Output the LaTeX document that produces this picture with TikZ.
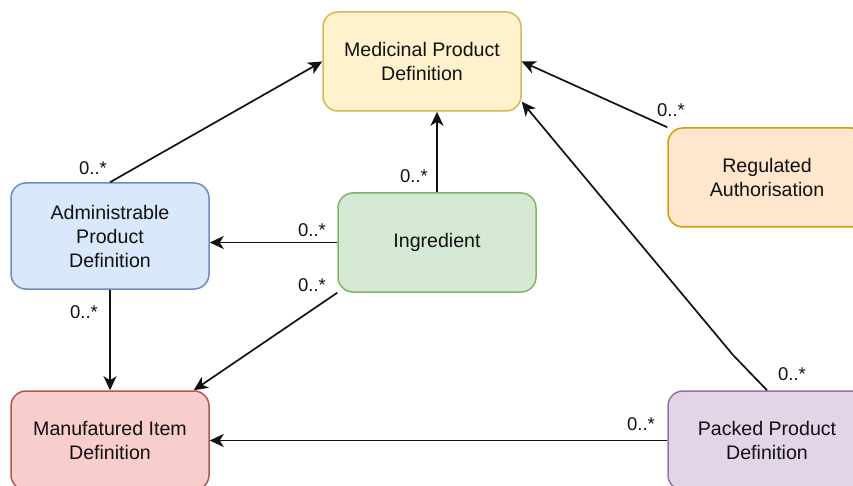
\documentclass[tikz,border=0pt]{standalone}
\usepackage{fontspec}
\setmainfont{Liberation Sans}
\usetikzlibrary{arrows.meta,calc}

% draw.io palette
\definecolor{yelFill}{HTML}{FFF2CC}\definecolor{yelLine}{HTML}{D6B656}
\definecolor{orFill}{HTML}{FFE6CC}\definecolor{orLine}{HTML}{D79B00}
\definecolor{bluFill}{HTML}{DAE8FC}\definecolor{bluLine}{HTML}{6C8EBF}
\definecolor{grnFill}{HTML}{D5E8D4}\definecolor{grnLine}{HTML}{82B366}
\definecolor{redFill}{HTML}{F8CECC}\definecolor{redLine}{HTML}{B85450}
\definecolor{purFill}{HTML}{E1D5E7}\definecolor{purLine}{HTML}{9673A6}
\definecolor{ink}{HTML}{111111}

\tikzset{
  entity/.style={draw, rounded corners=15pt, line width=1.5pt,
    minimum width=198pt, minimum height=99pt, inner sep=0pt,
    align=center, text=ink, font=\fontsize{19.6}{24}\selectfont},
  assoc/.style={draw=ink, line width=1.7pt,
    -{Stealth[length=14pt,width=13pt,inset=4pt]}},
  mult/.style={text=ink, inner sep=0pt, font=\fontsize{18.5}{22}\selectfont}
}

\begin{document}
\begin{tikzpicture}[x=1pt,y=-1pt]
  \useasboundingbox (0,0) rectangle (853,486);
  \clip (0,0) rectangle (853,486);

  % classes
  \node[entity, fill=yelFill, draw=yelLine] (mpd) at (422,61.5) {Medicinal Product\\Definition};
  \node[entity, fill=orFill, draw=orLine] (ra) at (767,177.5) {Regulated\\Authorisation};
  \node[entity, fill=bluFill, draw=bluLine, minimum height=106pt] (apd) at (110,236) {Administrable\\Product\\Definition};
  \node[entity, fill=grnFill, draw=grnLine] (ing) at (437,242.5) {Ingredient};
  \node[entity, fill=redFill, draw=redLine] (mid) at (110,440.5) {Manufatured Item\\Definition};
  \node[entity, fill=purFill, draw=purLine] (ppd) at (767,440.5) {Packed Product\\Definition};

  % free ends and bends
  \coordinate (bendP) at (733,355);
  \coordinate (mpdLow) at ($(mpd.south east)+(0,-10)$);
  \coordinate (midTop) at ($(mid.north east)+(-16,0)$);

  % associations
  \draw[assoc] (apd.north) -- (mpd.west);
  \draw[assoc] (ing.north) -- (ing.north |- mpd.south);
  \draw[assoc] (ra.north west) -- (mpd.east);
  \draw[assoc] (ppd.north) -- (bendP) -- (mpdLow);
  \draw[assoc] (ing.west) -- (ing.west -| apd.east);
  \draw[assoc] (ing.south west) -- (midTop);
  \draw[assoc] (apd.south) -- (apd.south |- mid.north);
  \draw[assoc] (ppd.west) -- (ppd.west -| mid.east);

  % multiplicities
  \node[mult] (m1) at (93,168) {0..*};
  \node[mult] (m2) at (414,176) {0..*};
  \node[mult] (m3) at (671,110) {0..*};
  \node[mult] (m4) at (792,374) {0..*};
  \node[mult] (m5) at (312,230) {0..*};
  \node[mult] (m6) at (312,285) {0..*};
  \node[mult] (m7) at (84,312) {0..*};
  \node[mult] (m8) at (641,424) {0..*};
\end{tikzpicture}
\end{document}
